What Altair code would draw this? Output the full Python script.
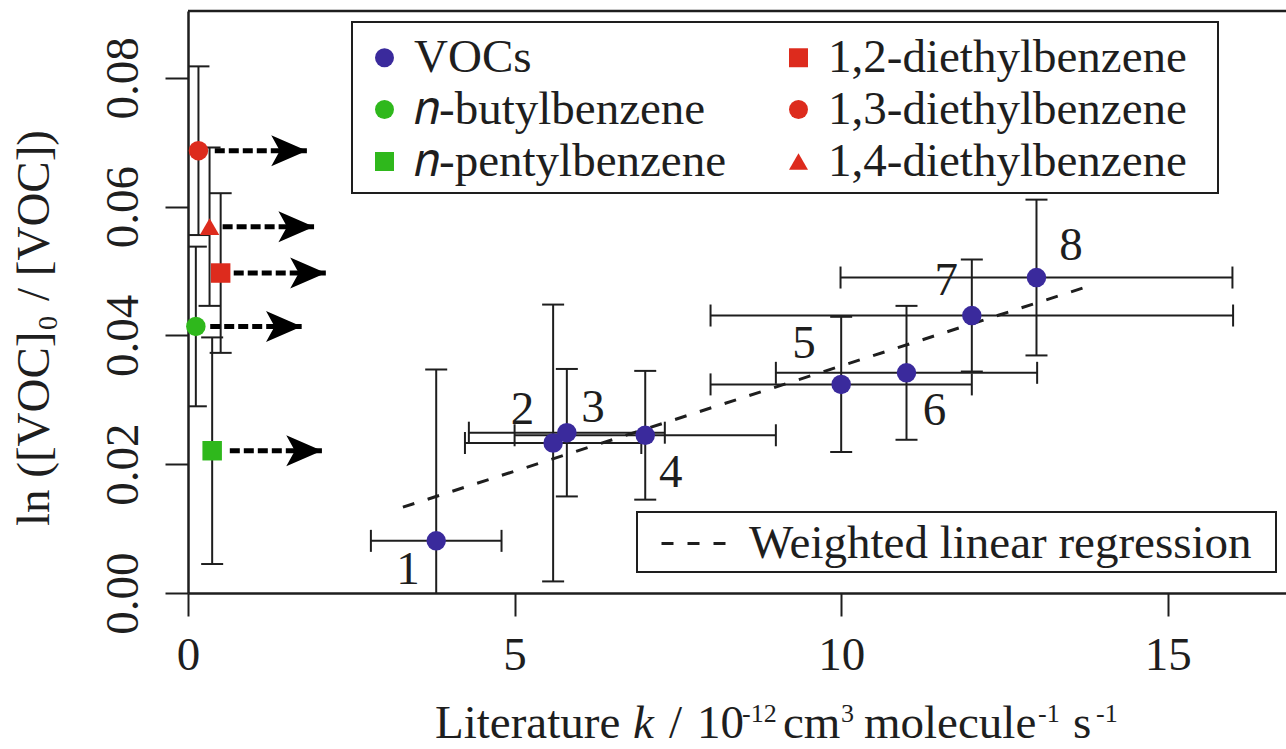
import altair as alt
import pandas as pd

FONT = "Liberation Serif"
INK = "#1e1e1e"
BLUE = "#3a2a9c"
GREEN = "#2fb81c"
RED = "#dd2b1d"
FS = 47

# ---- VOCs (numbered 1-8) ----
voc_id = ["1", "2", "3", "4", "5", "6", "7", "8"]
voc_k = [3.80, 5.59, 5.80, 7.00, 10.00, 11.00, 12.00, 12.99]
voc_k_err = [1.00, 1.35, 1.50, 2.00, 2.00, 2.00, 4.00, 3.00]
voc_ln = [0.0081, 0.0233, 0.0249, 0.0245, 0.0324, 0.0342, 0.0431, 0.0490]
voc_ln_err = [0.0266, 0.0215, 0.0099, 0.0100, 0.0105, 0.0104, 0.0087, 0.0121]
label_k = [3.37, 5.12, 6.20, 7.39, 9.43, 11.43, 11.61, 13.52]
label_ln = [0.0036, 0.0285, 0.0288, 0.0187, 0.0387, 0.0283, 0.0484, 0.0539]

# ---- compounds with unknown k (arrows) ----
left_names = ["𝑛-butylbenzene", "𝑛-pentylbenzene", "1,2-diethylbenzene",
              "1,3-diethylbenzene", "1,4-diethylbenzene"]
left_k = [0.12, 0.37, 0.50, 0.16, 0.33]
left_ln = [0.0414, 0.0221, 0.0497, 0.0687, 0.0569]
left_ln_err = [0.0124, 0.0176, 0.0124, 0.0131, 0.0123]
arrow_start = [0.34, 0.64, 0.70, 0.41, 0.53]
arrow_tip = [1.74, 2.05, 2.11, 1.82, 1.93]

# ---- weighted linear regression ----
reg_k = [3.29, 13.71]
reg_ln = [0.01333, 0.0474]

x_ticks = [0, 5, 10, 15]
y_ticks = [0.00, 0.02, 0.04, 0.06, 0.08]
x_domain = [0, 16.81]
y_domain = [0, 0.0904]

series_order = ["VOCs", "𝑛-butylbenzene", "𝑛-pentylbenzene",
                "1,2-diethylbenzene", "1,3-diethylbenzene", "1,4-diethylbenzene"]
series_colors = [BLUE, GREEN, GREEN, RED, RED, RED]
series_shapes = ["circle", "circle", "square", "square", "circle", "triangle-up"]

W, H = 1098, 582

# ---- tables ----
pts = pd.DataFrame({
    "series": ["VOCs"] * len(voc_k) + left_names,
    "k": voc_k + left_k,
    "ln": voc_ln + left_ln,
})
verr = pd.DataFrame({
    "k": voc_k + left_k,
    "lo": [v - e for v, e in zip(voc_ln + left_ln, voc_ln_err + left_ln_err)],
    "hi": [v + e for v, e in zip(voc_ln + left_ln, voc_ln_err + left_ln_err)],
})
herr = pd.DataFrame({
    "ln": voc_ln,
    "lo": [v - e for v, e in zip(voc_k, voc_k_err)],
    "hi": [v + e for v, e in zip(voc_k, voc_k_err)],
})
labels = pd.DataFrame({"id": voc_id, "k": label_k, "ln": label_ln})
arrows = pd.DataFrame({"start": arrow_start, "tip": arrow_tip, "ln": left_ln})
reg = pd.DataFrame({"k": reg_k, "ln": reg_ln, "fit": ["Weighted linear regression"] * 2})
one = pd.DataFrame({"a": [0]})

xs = alt.Scale(domain=x_domain, nice=False, zero=False)
ys = alt.Scale(domain=y_domain, nice=False, zero=False)
common_axis = dict(title=None, grid=False, tickSize=23, tickWidth=2, tickColor=INK,
                   domainColor=INK, domainWidth=2.5, labelFont=FONT, labelFontSize=FS,
                   labelColor=INK, labelFlush=False, labelOverlap=False)
xaxis = alt.Axis(values=x_ticks, format="d", labelPadding=53, labelBaseline="alphabetic",
                 **common_axis)
yaxis = alt.Axis(values=y_ticks, format=".2f", labelAngle=270, labelAlign="center",
                 labelBaseline="alphabetic", labelPadding=28, **common_axis)


def X(f):
    return alt.X(f, type="quantitative", scale=xs, axis=xaxis)


def Y(f):
    return alt.Y(f, type="quantitative", scale=ys, axis=yaxis)


layers = []

# legend boxes
layers.append(alt.Chart(one).mark_rect(fill="white", stroke=INK, strokeWidth=2).encode(
    x=alt.value(164), x2=alt.value(1030), y=alt.value(11), y2=alt.value(182)))
layers.append(alt.Chart(one).mark_rect(fill="white", stroke=INK, strokeWidth=2).encode(
    x=alt.value(449), x2=alt.value(1088), y=alt.value(501), y2=alt.value(561)))

# vertical error bars
layers.append(alt.Chart(verr).mark_rule(clip=True, strokeWidth=2, color=INK).encode(
    x=X("k"), y=Y("lo"), y2="hi"))
for f in ["lo", "hi"]:
    layers.append(alt.Chart(verr).mark_tick(orient="horizontal", size=22, thickness=2,
                                            color=INK, opacity=1, clip=True).encode(
        x=X("k"), y=Y(f)))
# horizontal error bars
layers.append(alt.Chart(herr).mark_rule(clip=True, strokeWidth=2, color=INK).encode(
    y=Y("ln"), x=X("lo"), x2="hi"))
for f in ["lo", "hi"]:
    layers.append(alt.Chart(herr).mark_tick(orient="vertical", size=22, thickness=2,
                                            color=INK, opacity=1, clip=True).encode(
        y=Y("ln"), x=X(f)))

# regression line
layers.append(alt.Chart(reg).mark_line(strokeWidth=3, color=INK).encode(
    x=X("k"), y=Y("ln"),
    strokeDash=alt.StrokeDash("fit:N", scale=alt.Scale(domain=["Weighted linear regression"],
                                                       range=[[12, 14]]),
                              legend=alt.Legend(orient="none", legendX=472, legendY=499,
                                                title=None, labelFont=FONT, labelFontSize=FS,
                                                labelColor=INK, symbolType="stroke",
                                                symbolSize=4096, symbolStrokeColor=INK,
                                                symbolStrokeWidth=3, symbolDash=[13, 12],
                                                labelOffset=22, padding=0, labelLimit=0))))

# dashed arrows
layers.append(alt.Chart(arrows).mark_rule(strokeDash=[10, 4], strokeWidth=5, color="black").encode(
    x=X("start"), x2="tip", y=Y("ln")))
layers.append(alt.Chart(arrows).mark_point(shape="M0,0 L-2,-0.87 L-1.52,0 L-2,0.87 Z", size=1270,
                                           filled=True, color="black", opacity=1).encode(
    x=X("tip"), y=Y("ln")))

# points
leg1 = alt.Legend(orient="none", legendX=173, legendY=23, columns=2, title=None,
                  labelFont=FONT, labelFontSize=FS, labelColor=INK, symbolSize=360,
                  symbolStrokeWidth=0, symbolOpacity=1, rowPadding=4, columnPadding=48,
                  labelOffset=6, padding=0, labelLimit=0)
layers.append(alt.Chart(pts).mark_point(filled=True, size=380, opacity=1).encode(
    x=X("k"), y=Y("ln"),
    color=alt.Color("series:N", scale=alt.Scale(domain=series_order, range=series_colors),
                    legend=leg1),
    shape=alt.Shape("series:N", scale=alt.Scale(domain=series_order, range=series_shapes),
                    legend=leg1)))

# point labels
layers.append(alt.Chart(labels).mark_text(font=FONT, fontSize=FS, color=INK, align="center",
                                          baseline="middle").encode(
    x=X("k"), y=Y("ln"), text="id:N"))

# top frame line
layers.append(alt.Chart(one).mark_rule(color=INK, strokeWidth=2.5).encode(
    x=alt.value(0), x2=alt.value(W), y=alt.value(0)))


def txt(s, x, y, size=FS, italic=False, angle=0):
    kw = dict(text=s, font=FONT, fontSize=size, color=INK, align="left",
              baseline="alphabetic", fontStyle="italic" if italic else "normal")
    if angle:
        kw["angle"] = angle
    return alt.Chart(one).mark_text(**kw).encode(x=alt.value(x), y=alt.value(y))


# x-axis title: Literature k / 10^-12 cm^3 molecule^-1 s^-1
XB, XS = 727, 711
layers += [
    txt("Literature", 247, XB),
    txt("k", 445, XB, italic=True),
    txt("/", 481, XB),
    txt("10", 509, XB),
    txt("-12", 554, XS, size=26),
    txt("cm", 595, XB),
    txt("3", 653, XS, size=26),
    txt("molecule", 676, XB),
    txt("-1", 850, XS, size=26),
    txt("s", 885, XB),
    txt("-1", 908, XS, size=26),
]
# y-axis title: ln ([VOC]_0 / [VOC])
layers += [
    txt("ln ([VOC]", -139, 515, angle=270),
    txt("0", -131, 319, size=28, angle=270),
    txt("/ [VOC])", -139, 290, angle=270),
]

chart = alt.layer(*layers).properties(
    width=W, height=H,
    padding={"left": 188, "top": 11, "right": 0, "bottom": 156},
    autosize=alt.AutoSizeParams(type="none"),
).configure_view(stroke=None)

chart.save("out.html", embed_options={"renderer": "svg", "actions": False})
